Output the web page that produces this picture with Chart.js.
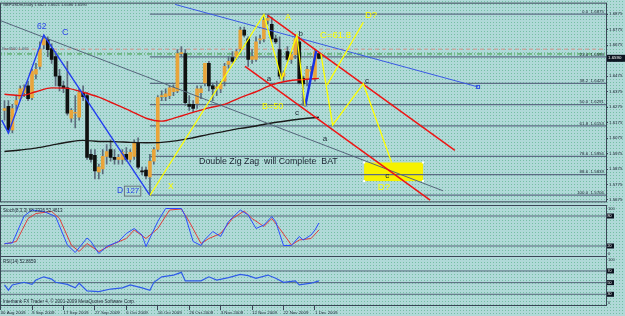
<!DOCTYPE html>
<html>
<head>
<meta charset="utf-8">
<title>GBPUSDm Daily</title>
<script src="https://cdn.jsdelivr.net/npm/chart.js@4.4.1/dist/chart.umd.min.js"></script>
<style>
  html, body { margin: 0; padding: 0; }
  body { width: 625px; height: 316px; position: relative; overflow: hidden;
         background-color: #b0d9d8;
         background-image: radial-gradient(circle, rgba(70,170,120,0.55) 0.6px, transparent 0.9px);
         background-size: 3px 3px; }
  canvas { position: absolute; left: 0; }
</style>
</head>
<body>
<canvas id="main" width="625" height="205" style="top:0px"></canvas>
<canvas id="stoch" width="625" height="52" style="top:205px"></canvas>
<canvas id="rsi" width="625" height="60" style="top:256px"></canvas>
<script>
const symbol = 'GBPUSDm';

// daily candles, bar 0 = 27 Aug 2009
const open = [1.6254,1.6279,1.6127,1.6292,1.6330,1.6368,1.6412,1.6336,1.6488,1.6538,
  1.6677,1.6709,1.6652,1.6601,1.6475,1.6412,1.6399,1.6203,1.6235,1.6210,
  1.6368,1.6349,1.5969,1.5963,1.5856,1.5875,1.5957,1.6001,1.5950,1.5937,
  1.5937,1.5969,1.5937,1.5957,1.6045,1.5862,1.5868,1.5824,1.5925,1.6001,
  1.6342,1.6342,1.6349,1.6374,1.6380,1.6620,1.6620,1.6292,1.6292,1.6298,
  1.6368,1.6431,1.6557,1.6412,1.6399,1.6393,1.6443,1.6551,1.6595,1.6601,
  1.6652,1.6772,1.6715,1.6582,1.6582,1.6709,1.6715,1.6835,1.6810,1.6715,
  1.6646,1.6475,1.6633,1.6582,1.6614,1.6696,1.6462,1.6456,1.6507,1.6462,
  1.6621];
const high = [1.6317,1.6317,1.6292,1.6349,1.6412,1.6418,1.6443,1.6519,1.6557,1.6696,
  1.6740,1.6728,1.6684,1.6633,1.6519,1.6443,1.6570,1.6266,1.6349,1.6393,
  1.6412,1.6368,1.6001,1.6001,1.5906,1.6001,1.6033,1.6064,1.6001,1.5969,
  1.6001,1.6014,1.6001,1.6064,1.6077,1.5887,1.5887,1.5969,1.6014,1.6349,
  1.6380,1.6393,1.6412,1.6418,1.6646,1.6665,1.6646,1.6349,1.6317,1.6412,
  1.6412,1.6557,1.6570,1.6431,1.6443,1.6443,1.6557,1.6601,1.6633,1.6646,
  1.6791,1.6791,1.6728,1.6646,1.6728,1.6740,1.6873,1.6873,1.6854,1.6740,
  1.6728,1.6507,1.6665,1.6633,1.6740,1.6728,1.6475,1.6538,1.6538,1.6646,
  1.6621];
const low = [1.6191,1.6108,1.6108,1.6254,1.6317,1.6342,1.6317,1.6323,1.6456,1.6519,
  1.6652,1.6601,1.6557,1.6412,1.6380,1.6368,1.6222,1.6178,1.6140,1.6191,
  1.6317,1.5937,1.5919,1.5811,1.5811,1.5843,1.5906,1.5925,1.5906,1.5906,
  1.5906,1.5925,1.5919,1.5937,1.5875,1.5837,1.5811,1.5704,1.5906,1.5988,
  1.6317,1.6317,1.6330,1.6349,1.6368,1.6601,1.6285,1.6254,1.6241,1.6266,
  1.6330,1.6412,1.6380,1.6317,1.6349,1.6368,1.6412,1.6526,1.6557,1.6582,
  1.6633,1.6728,1.6538,1.6557,1.6570,1.6684,1.6696,1.6810,1.6696,1.6684,
  1.6456,1.6443,1.6570,1.6557,1.6588,1.6424,1.6285,1.6412,1.6475,1.6443,
  1.6586];
const close = [1.6266,1.6127,1.6266,1.6317,1.6393,1.6399,1.6330,1.6507,1.6519,1.6646,
  1.6715,1.6646,1.6582,1.6475,1.6412,1.6399,1.6235,1.6254,1.6241,1.6368,
  1.6342,1.5950,1.5937,1.5862,1.5887,1.5957,1.5988,1.5950,1.5937,1.5950,
  1.5982,1.5937,1.5982,1.6045,1.5887,1.5856,1.5830,1.5925,1.6001,1.6336,
  1.6349,1.6361,1.6399,1.6399,1.6620,1.6627,1.6304,1.6279,1.6266,1.6393,
  1.6393,1.6557,1.6412,1.6393,1.6405,1.6424,1.6538,1.6570,1.6570,1.6633,
  1.6772,1.6740,1.6582,1.6601,1.6696,1.6715,1.6835,1.6848,1.6715,1.6696,
  1.6475,1.6494,1.6582,1.6614,1.6715,1.6431,1.6424,1.6519,1.6507,1.6633,
  1.6590];

// moving averages read every 4 bars
const maBars = [0,4,8,12,16,20,24,28,32,36,40,44,48,52,56,60,64,68,72,76,80];
const maRed = [1.6358,1.6349,1.6374,1.6399,1.6396,1.6371,1.6339,1.6295,1.6251,1.6203,
  1.6184,1.6210,1.6241,1.6270,1.6292,1.6336,1.6374,1.6418,1.6443,1.6453,1.6460];
const maBlack = [1.5988,1.5998,1.6010,1.6029,1.6048,1.6060,1.6053,1.6052,1.6047,1.6045,
  1.6047,1.6058,1.6077,1.6099,1.6118,1.6137,1.6153,1.6172,1.6187,1.6200,1.6209];

const priceTicks = [1.5675,1.5775,1.5875,1.5975,1.6075,1.6175,1.6275,1.6375,1.6475,1.6575,1.6675,1.6775,1.6875];

// fibonacci X -> A
const fibLevels = [0, 23.6, 38.2, 50, 61.8, 78.6, 88.6, 100];
const fibPrices = [1.6875, 1.6599, 1.6428, 1.6291, 1.6153, 1.5956, 1.5839, 1.5706];
const fibStart = 37;

const dashPink = 1.6648;
const dashGreen = 1.6618;

// drawn objects as [bar, price]
const blueZigzag = [[-0.7,1.6191],[1,1.6108],[10,1.6740],[37,1.5704]];
const grayTrend = [[-1.2,1.6835],[111.6,1.5734]];
const blueTrend = [[43.4,1.6938],[120.5,1.6405]];
const redUpper = [[67,1.6867],[114.6,1.5995]];
const redLower = [[61.2,1.6538],[108.3,1.5674]];
const yellowXAB = [[37,1.5704],[66,1.6873],[70.5,1.6454],[74.4,1.6739],[76.5,1.6279]];
const blueBC = [[76.5,1.6279],[79.3,1.6637]];
const yellowCD = [[80.5,1.6620],[83.5,1.6159],[91.3,1.6426],[98.5,1.5917]];
const yellowD = [[91.3,1.6823],[82.1,1.6418]];
const boxBars = [91.5, 106.5];
const boxPrices = [1.5797, 1.5917];

// indicators [bar, value]
const stochK = [[0,25],[2,26],[5,80],[7,92],[10,89],[13,79],[16,22],[18,7],[21,36],[22,29],[24,5],[26,19],
  [29,29],[31,45],[33,55],[35,42],[36,19],[39,69],[41,95],[45,95],[46,80],[48,29],[50,21],[51,33],[53,49],
  [55,39],[57,69],[60,92],[62,82],[64,55],[66,62],[68,79],[69,69],[71,21],[73,21],[75,39],[76,32],[78,42],[79,52],[80,66]];
const stochD = [[0,24],[3,29],[6,75],[8,85],[12,89],[14,75],[17,22],[19,9],[21,25],[24,9],[28,25],[31,35],
  [33,52],[36,35],[39,55],[42,92],[45,94],[47,69],[50,25],[52,35],[55,45],[58,75],[61,90],[63,75],[66,59],
  [68,75],[70,55],[73,22],[75,32],[78,35],[80,52]];
const rsiPts = [[0,46],[1,37],[2,46],[5,50.6],[7,47],[8,54.5],[10,60],[12,56],[13,50.6],[16,47],[18,41],[19,49],
  [21,35.7],[24,34.5],[27,39],[30,41],[32,46],[35,41],[37,37],[38,50.6],[40,60],[43,63],[45,67.7],[46,53],
  [50,53],[52,60],[54,54.5],[57,58.5],[60,64],[62,62],[64,57.5],[67,63],[69,57.5],[71,50.6],[74,53],[75,46],
  [78,49],[80,52.9]];
const stochLevels = [80, 20];
const rsiLevels = [70, 50, 30];

const dateBars = [-1,7,15,23,31,39,47,55,63,71,79];
const dates = ['30 Aug 2009','9 Sep 2009','17 Sep 2009','27 Sep 2009','6 Oct 2009','16 Oct 2009',
  '26 Oct 2009','3 Nov 2009','12 Nov 2009','22 Nov 2009','1 Dec 2009'];

const BLUE = '#2a45e8', YEL = '#ffff00', INK = '#1c2432';
const notes = [
  {t:'62', x:8.3, y:1.6794, c:BLUE, s:8.5},
  {t:'C', x:14.6, y:1.6759, c:BLUE, s:9},
  {t:'D', x:28.6, y:1.5736, c:BLUE, s:8.5},
  {t:'127', x:30.9, y:1.5732, c:BLUE, s:8, box:true},
  {t:'X', x:41.6, y:1.5758, c:YEL, s:8.5},
  {t:'A', x:71.4, y:1.6851, c:YEL, s:9},
  {t:'a', x:66.7, y:1.6456, c:INK, s:8},
  {t:'b', x:74.8, y:1.6747, c:INK, s:8},
  {t:'B=50', x:65.5, y:1.6276, c:YEL, s:9},
  {t:'c', x:73.9, y:1.6235, c:INK, s:8},
  {t:'C=61.8', x:80.3, y:1.6740, c:YEL, s:9.5},
  {t:'D?', x:91.7, y:1.6867, c:YEL, s:9.5},
  {t:'c', x:91.7, y:1.6447, c:INK, s:8},
  {t:'a', x:81.0, y:1.6067, c:INK, s:8},
  {t:'c', x:96.9, y:1.5832, c:INK, s:8},
  {t:'D?', x:95.0, y:1.5755, c:YEL, s:9.5},
  {t:'Double Zig Zag  will Complete  BAT', x:49.5, y:1.5922, c:INK, s:8.8},
  {t:'Bsell500 1.665', x:-0.6, y:1.6652, c:'#4a5566', s:4}
];

const F = '"Liberation Sans", Arial, sans-serif';
const FRAME = '#3a4656';
const xMin = -0.89, xMax = 153.05;
const last = close.length - 1;

function text(c, s, x, y, size, color, align) {
  c.font = size + 'px ' + F;
  c.fillStyle = color;
  c.textAlign = align || 'left';
  c.textBaseline = 'middle';
  c.fillText(s, x, y);
}

const frame = {
  id: 'frame',
  afterDraw(ch) {
    const a = ch.chartArea, c = ch.ctx;
    c.save();
    c.strokeStyle = FRAME; c.lineWidth = 1;
    c.strokeRect(a.left - 0.5, a.top - 0.5, a.right - a.left + 1, a.bottom - a.top + 1);
    c.restore();
  }
};

const seg = (pts, color, width, order, extra) => Object.assign({
  type: 'line', data: pts.map(([x, y]) => ({x, y})), borderColor: color, borderWidth: width,
  pointRadius: 0, fill: false, tension: 0, order: order
}, extra || {});

const flat = (y, x0, color, width, order, dash) => seg([[x0, y], [xMax + 5, y]], color, width, order, {borderDash: dash || []});

const bull = close.map((c, i) => c >= open[i]);

const mainDeco = {
  id: 'mainDeco',
  beforeDatasetsDraw(ch) {
    const xs = ch.scales.x, ys = ch.scales.y, c = ch.ctx;
    const x0 = xs.getPixelForValue(boxBars[0]), x1 = xs.getPixelForValue(boxBars[1]);
    const y0 = ys.getPixelForValue(boxPrices[1]), y1 = ys.getPixelForValue(boxPrices[0]);
    c.save();
    c.fillStyle = '#f6f200';
    c.fillRect(x0, y0, x1 - x0, y1 - y0);
    c.restore();
  },
  afterDatasetsDraw(ch) {
    const xs = ch.scales.x, ys = ch.scales.y, c = ch.ctx;
    c.save();
    // box handles
    const x0 = xs.getPixelForValue(boxBars[0]), x1 = xs.getPixelForValue(boxBars[1]);
    const y0 = ys.getPixelForValue(boxPrices[1]), y1 = ys.getPixelForValue(boxPrices[0]);
    c.fillStyle = '#ffffff';
    [[x0, y0], [x1, y0], [x0, y1], [x1, y1]].forEach(([x, y]) => c.fillRect(x - 1, y - 1, 2, 2));
    // end marker of the blue trend line
    const e = blueTrend[blueTrend.length - 1];
    c.strokeStyle = '#3050e0'; c.lineWidth = 1;
    c.strokeRect(xs.getPixelForValue(e[0]) - 1.5, ys.getPixelForValue(e[1]) - 1.5, 3, 3);
    // fib labels
    fibLevels.forEach((lv, k) => {
      text(c, lv.toFixed(1) + '  ' + fibPrices[k].toFixed(4), xs.right - 2, ys.getPixelForValue(fibPrices[k]) - 2.6, 4.4, INK, 'right');
    });
    notes.forEach(n => {
      const x = xs.getPixelForValue(n.x), y = ys.getPixelForValue(n.y);
      text(c, n.t, x, y, n.s, n.c, 'left');
      if (n.box) {
        const w = c.measureText(n.t).width;
        c.strokeStyle = '#6a7480'; c.lineWidth = 1;
        c.strokeRect(x - 1.5, y - n.s * 0.62, w + 3, n.s * 1.24);
      }
    });
    c.restore();
  },
  afterDraw(ch) {
    const ys = ch.scales.y, c = ch.ctx;
    c.save();
    text(c, symbol + ',Daily ' + [open[last], high[last], low[last], close[last]].map(v => v.toFixed(4)).join(' '),
      3, 5, 4, INK, 'left');
    const y = ys.getPixelForValue(close[last]);
    c.fillStyle = '#0c1420';
    c.fillRect(ch.chartArea.right + 1, y - 3.5, 18, 7);
    text(c, close[last].toFixed(4), ch.chartArea.right + 2, y, 4.4, '#ffffff', 'left');
    c.restore();
  }
};

new Chart(document.getElementById('main'), {
  type: 'bar',
  data: {
    datasets: [
      seg(yellowXAB, YEL, 1.3, 1),
      seg(yellowCD, YEL, 1.3, 1),
      seg(yellowD, YEL, 1.3, 1),
      seg(blueBC, '#1530e8', 2.4, 2),
      seg(blueZigzag, '#2440f0', 1.4, 2),
      seg(redUpper, '#ee1414', 1.5, 3),
      seg(redLower, '#ee1414', 1.5, 3),
      seg(blueTrend, '#3a58e4', 1, 4),
      seg(grayTrend, '#55657a', 1, 5),
      {type: 'line', data: maBars.map((b, k) => ({x: b, y: maRed[k]})), borderColor: '#e41212', borderWidth: 1.4,
        pointRadius: 0, cubicInterpolationMode: 'monotone', order: 6},
      {type: 'line', data: maBars.map((b, k) => ({x: b, y: maBlack[k]})), borderColor: '#1a1a1a', borderWidth: 1.4,
        pointRadius: 0, cubicInterpolationMode: 'monotone', order: 7},
      {type: 'bar', data: open.map((o, i) => ({x: i, y: [o, close[i]]})), backgroundColor: bull.map(b => b ? '#e9a43a' : '#111111'),
        barThickness: 3, minBarLength: 1, grouped: false, order: 8},
      {type: 'bar', data: open.map((o, i) => ({x: i, y: [low[i], high[i]]})), backgroundColor: '#5c6b7c',
        barThickness: 1, grouped: false, order: 9},
      flat(dashPink, xMin - 1, '#c4aaa2', 1.4, 10, [4, 3]),
      flat(dashGreen, xMin - 1, '#3a9a3a', 1, 10, [5, 2, 1, 2]),
      ...fibPrices.map(p => flat(p, fibStart, '#5c6c84', 1.2, 11))
    ]
  },
  options: {
    responsive: false, animation: false, events: [],
    layout: {padding: {top: 1, left: 1, right: 0, bottom: 2}},
    plugins: {legend: {display: false}, tooltip: {enabled: false}},
    scales: {
      x: {type: 'linear', display: false, min: xMin, max: xMax, offset: false, bounds: 'data'},
      y: {position: 'right', min: 1.5666, max: 1.6943, bounds: 'data',
        afterFit: s => { s.width = 19; },
        afterBuildTicks: s => { s.ticks = priceTicks.map(v => ({value: v})); },
        ticks: {font: {size: 4.4, family: F}, color: INK, padding: 1, autoSkip: false, callback: v => v.toFixed(4)},
        grid: {drawOnChartArea: false, tickLength: 2, color: FRAME},
        border: {color: FRAME}}
    }
  },
  plugins: [mainDeco, frame]
});

function pane(id, series, levels, yMin, yMax, title, withDates, footer) {
  const deco = {
    id: 'pane' + id,
    afterDraw(ch) {
      const ys = ch.scales.y, c = ch.ctx, a = ch.chartArea;
      c.save();
      text(c, title, 3, a.top + 4.5, 4.5, INK, 'left');
      if (footer) text(c, footer, 3, a.bottom - 3, 4.6, INK, 'left');
      text(c, '100', a.right + 2, a.top + 2.5, 4, INK, 'left');
      text(c, '0', a.right + 2, a.bottom - 2.5, 4, INK, 'left');
      levels.forEach(lv => {
        const y = ys.getPixelForValue(lv);
        c.fillStyle = '#0c1420';
        c.fillRect(a.right + 1, y - 2.5, 7, 5);
        text(c, String(lv), a.right + 1.6, y, 3.6, '#ffffff', 'left');
      });
      c.restore();
    }
  };
  const xScale = withDates ? {
    type: 'linear', min: xMin, max: xMax, offset: false, bounds: 'data',
    afterFit: s => { s.height = 11; },
    afterBuildTicks: s => { s.ticks = dateBars.map(v => ({value: v})); },
    ticks: {font: {size: 4.4, family: F}, color: INK, align: 'start', padding: 0, autoSkip: false,
      maxRotation: 0, minRotation: 0, callback: (v, k) => dates[k]},
    grid: {drawOnChartArea: false, tickLength: 5, color: FRAME},
    border: {color: FRAME}
  } : {type: 'linear', display: false, min: xMin, max: xMax, offset: false, bounds: 'data'};
  new Chart(document.getElementById(id), {
    type: 'line',
    data: {
      datasets: [
        ...series.map((s, k) => ({data: s.pts.map(([x, y]) => ({x, y})), borderColor: s.color, borderWidth: s.w,
          pointRadius: 0, tension: 0, order: k + 1})),
        ...levels.map(lv => ({data: [{x: xMin - 1, y: lv}, {x: xMax + 1, y: lv}], borderColor: '#56667a',
          borderWidth: 1, pointRadius: 0, order: 10}))
      ]
    },
    options: {
      responsive: false, animation: false, events: [],
      layout: {padding: {top: 1, left: 1, right: 0, bottom: withDates ? 0 : 1}},
      plugins: {legend: {display: false}, tooltip: {enabled: false}},
      scales: {
        x: xScale,
        y: {position: 'right', min: yMin, max: yMax, bounds: 'data',
          afterFit: s => { s.width = 19; },
          ticks: {display: false}, grid: {display: false}, border: {color: FRAME}}
      }
    },
    plugins: [deco, frame]
  });
}

pane('stoch', [{pts: stochK, color: '#2c4cff', w: 1}, {pts: stochD, color: '#e03c3c', w: 1}],
  stochLevels, 0, 100, 'Stoch(8,3,3) 68.2326 52.4613', false);
pane('rsi', [{pts: rsiPts, color: '#2f5ae8', w: 1.2}],
  rsiLevels, 11.6, 94, 'RSI(14) 52.8659', true,
  'Interbank FX Trader 4, \u00a9 2001-2009 MetaQuotes Software Corp.');
</script>
</body>
</html>
